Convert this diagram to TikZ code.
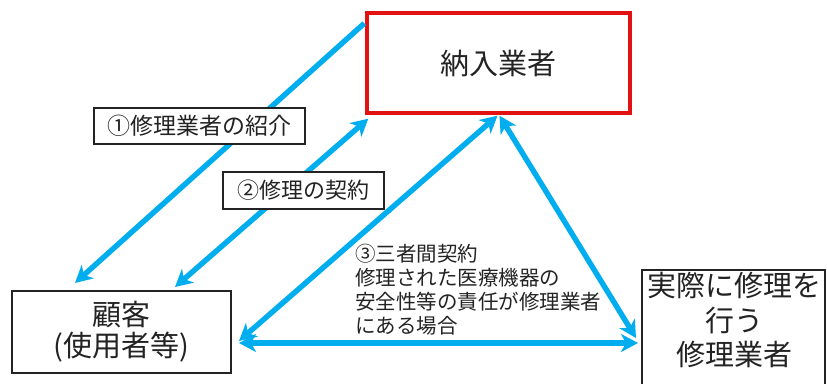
\documentclass[tikz,border=0pt]{standalone}
\usepackage{fontspec}
\setmainfont{Noto Sans CJK JP}
\usetikzlibrary{arrows.meta,calc}
\definecolor{arrowblue}{RGB}{0,174,239}
\definecolor{boxred}{RGB}{226,18,18}
\definecolor{txt}{RGB}{35,35,35}
\begin{document}
\begin{tikzpicture}[x=1pt,y=-1pt,
  tip/.tip={Stealth[length=17pt,width=18pt,inset=5pt]},
  conn/.style={line width=5.4pt, draw=arrowblue, arrowblue},
  both/.style={conn, tip-tip},
  single/.style={conn, -tip},
  thinbox/.style={draw=txt, line width=1.6pt, fill=white, text=txt},
  bigfont/.style={font=\fontsize{29}{33}\selectfont},
]
\useasboundingbox (0,0) rectangle (827,383);
\clip (0,0) rectangle (827,383);

% main boxes
\node[draw=boxred, line width=3.4pt, minimum width=263pt, minimum height=100pt,
      bigfont, text=txt] (nonyu) at (498.5,63) {納入業者};
\node[thinbox, minimum width=219pt, minimum height=82pt, align=center,
      font=\fontsize{29}{31}\selectfont] (kokyaku) at (121.5,332) {顧客\\(使用者等)};
\node[draw=txt, line width=1.6pt, minimum width=183pt, minimum height=170pt,
      anchor=north west] (shuri) at (641,269) {};
\node[anchor=north, align=center, inner sep=0pt, text=txt,
      font=\fontsize{29}{34.5}\selectfont] (shuritxt) at ($(shuri.north)+(1,3)$)
      {実際に修理を\\行う\\修理業者};

% connector end points
\coordinate (n1) at ($(nonyu.north west)+(-1,12)$);
\coordinate (n2) at ($(nonyu.south west)+(3,4)$);
\coordinate (n3) at ($(nonyu.south)+(-1,1)$);
\coordinate (n4) at ($(nonyu.south)+(1,1)$);
\coordinate (k1) at (75,283);
\coordinate (k2) at (175,287);
\coordinate (k3) at (239,341);
\coordinate (k4) at (239,343);
\coordinate (s1) at (636,338);
\coordinate (s2) at (638,343);

% connectors
\draw[single] (n1) -- (k1);
\draw[both] (k2) -- (n2);
\draw[both] (k3) -- (n3);
\draw[both] (n4) -- (s1);
\draw[both] (k4) -- (s2);

% labels
\node[thinbox, minimum width=211pt, minimum height=36pt,
      font=\fontsize{23}{25}\selectfont] (lab1) at (199.5,126) {①修理業者の紹介};
\node[thinbox, minimum width=161pt, minimum height=37pt,
      font=\fontsize{22}{24}\selectfont] (lab2) at (303.5,190.5) {②修理の契約};
\node[anchor=base west, align=left, inner sep=0pt, text=txt,
      font=\fontsize{20.5}{24}\selectfont] (lab3) at (355,333)
      {③三者間契約\\修理された医療機器の\\安全性等の責任が修理業者\\にある場合};
\end{tikzpicture}
\end{document}
